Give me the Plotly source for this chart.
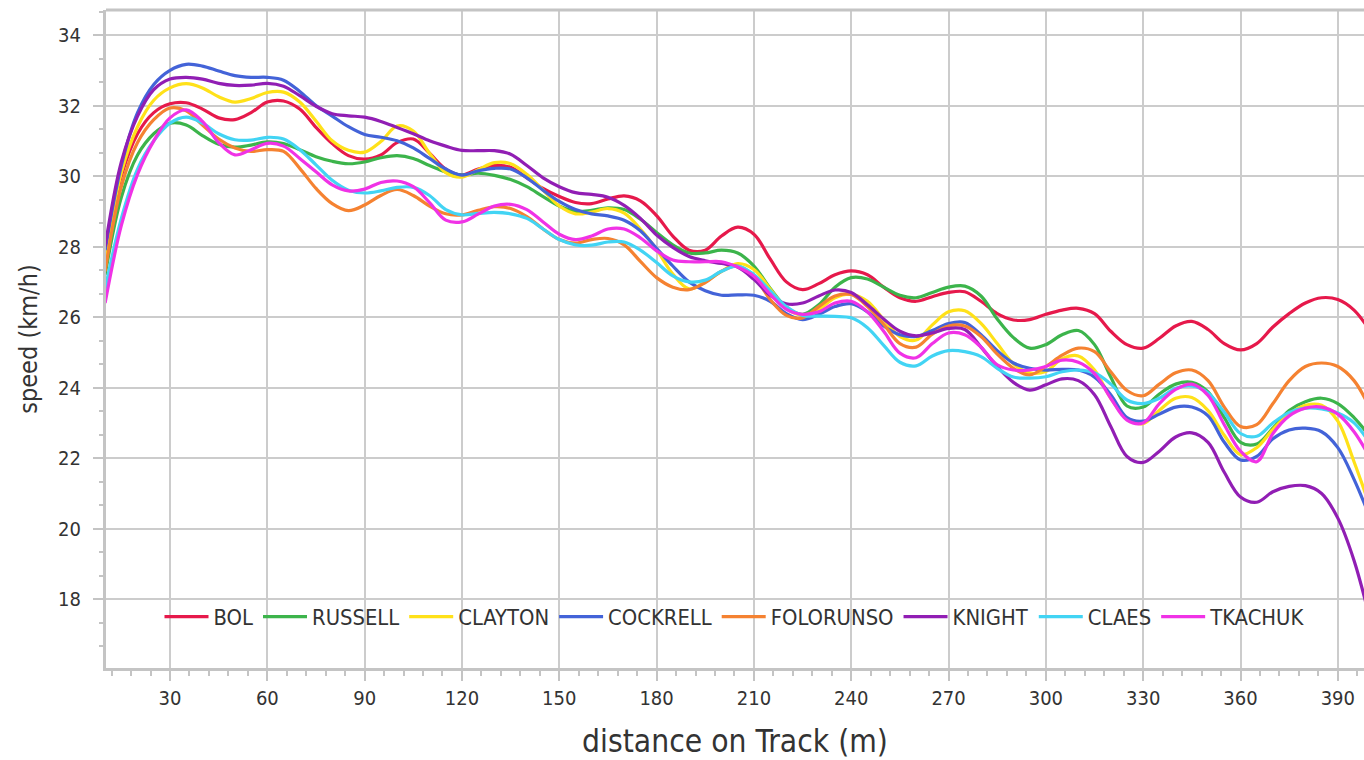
import plotly.graph_objects as go

distance = list(range(10, 401, 5))

names = ["BOL", "RUSSELL", "CLAYTON", "COCKRELL", "FOLORUNSO", "KNIGHT", "CLAES", "TKACHUK"]
colors = ["#e6194B", "#3cb44b", "#ffe119", "#4363d8", "#f58231", "#911eb4", "#42d4f4", "#f032e6"]

bol = [27.8, 30.0, 31.2, 31.8, 32.05, 32.08, 31.9, 31.65, 31.6, 31.8, 32.1, 32.13, 31.9, 31.38, 30.92, 30.58,
       30.48, 30.6, 30.95, 31.05, 30.65, 30.2, 30.03, 30.2, 30.3, 30.25, 29.95, 29.65, 29.42, 29.25, 29.22,
       29.35, 29.44, 29.3, 28.88, 28.3, 27.9, 27.9, 28.3, 28.55, 28.35, 27.65, 27.0, 26.78, 26.95, 27.2, 27.31,
       27.2, 26.85, 26.55, 26.45, 26.58, 26.7, 26.72, 26.45, 26.1, 25.92, 25.93, 26.08, 26.2, 26.25, 26.1, 25.6,
       25.22, 25.12, 25.4, 25.75, 25.88, 25.65, 25.25, 25.07, 25.25, 25.72, 26.1, 26.4, 26.55, 26.5, 26.2, 25.6]
russell = [27.2, 29.4, 30.6, 31.2, 31.5, 31.45, 31.15, 30.9, 30.82, 30.88, 30.97, 30.92, 30.75, 30.55, 30.42,
           30.35, 30.4, 30.52, 30.58, 30.5, 30.3, 30.12, 30.03, 30.08, 30.02, 29.9, 29.7, 29.42, 29.15, 29.0,
           29.03, 29.1, 29.05, 28.78, 28.4, 28.05, 27.82, 27.82, 27.9, 27.82, 27.45, 26.82, 26.28, 26.08, 26.35,
           26.85, 27.12, 27.08, 26.85, 26.62, 26.55, 26.7, 26.85, 26.88, 26.6, 25.95, 25.42, 25.12, 25.22, 25.5,
           25.62, 25.22, 24.3, 23.48, 23.45, 23.82, 24.1, 24.15, 23.88, 23.15, 22.45, 22.4, 22.85, 23.35, 23.6,
           23.7, 23.55, 23.15, 22.6]
clayton = [27.6, 30.1, 31.4, 32.15, 32.5, 32.62, 32.5, 32.25, 32.1, 32.2, 32.37, 32.38, 32.1, 31.56, 31.0,
           30.73, 30.68, 30.98, 31.42, 31.28, 30.65, 30.1, 29.97, 30.18, 30.38, 30.35, 30.05, 29.6, 29.15,
           28.93, 28.98, 29.08, 28.95, 28.5, 27.92, 27.22, 26.8, 27.0, 27.3, 27.52, 27.35, 26.8, 26.25, 26.05,
           26.22, 26.55, 26.65, 26.45, 25.93, 25.45, 25.35, 25.78, 26.15, 26.18, 25.82, 25.25, 24.68, 24.42,
           24.46, 24.82, 24.9, 24.5, 23.7, 23.12, 22.98, 23.36, 23.7, 23.72, 23.35, 22.65, 22.1, 22.3, 22.82,
           23.25, 23.5, 23.5, 23.05, 21.9, 20.6]
cockrell = [27.9, 30.3, 31.8, 32.6, 33.0, 33.17, 33.12, 32.98, 32.85, 32.8, 32.8, 32.72, 32.4, 32.0, 31.7,
            31.4, 31.18, 31.1, 31.0, 30.8, 30.5, 30.2, 30.03, 30.15, 30.22, 30.2, 29.95, 29.6, 29.28, 29.05,
            28.93, 28.87, 28.75, 28.45, 27.95, 27.45, 27.0, 26.75, 26.62, 26.63, 26.62, 26.45, 26.1, 25.93,
            26.08, 26.3, 26.38, 26.15, 25.75, 25.5, 25.45, 25.62, 25.82, 25.85, 25.5, 25.05, 24.7, 24.55, 24.5,
            24.52, 24.5, 24.3, 23.8, 23.15, 23.05, 23.25, 23.45, 23.45, 23.2, 22.45, 21.95, 22.05, 22.55, 22.8,
            22.85, 22.75, 22.3, 21.4, 20.3]
folorunso = [27.3, 29.7, 30.95, 31.6, 31.93, 31.85, 31.45, 31.05, 30.8, 30.7, 30.75, 30.7, 30.22, 29.65,
             29.22, 29.02, 29.18, 29.45, 29.62, 29.45, 29.15, 28.93, 28.9, 29.03, 29.13, 29.08, 28.85, 28.5,
             28.2, 28.1, 28.2, 28.23, 28.05, 27.58, 27.12, 26.85, 26.78, 26.98, 27.3, 27.45, 27.16, 26.5, 26.05,
             25.98, 26.3, 26.6, 26.64, 26.3, 25.8, 25.25, 25.15, 25.52, 25.75, 25.75, 25.45, 24.95, 24.55,
             24.36, 24.6, 24.92, 25.12, 25.02, 24.45, 23.92, 23.77, 24.1, 24.42, 24.5, 24.2, 23.45, 22.9,
             22.95, 23.55, 24.2, 24.6, 24.7, 24.6, 24.2, 23.4]
knight = [28.0, 30.4, 31.7, 32.45, 32.75, 32.8, 32.75, 32.63, 32.57, 32.58, 32.63, 32.55, 32.28, 31.98, 31.77,
          31.71, 31.67, 31.55, 31.38, 31.2, 31.0, 30.85, 30.73, 30.72, 30.72, 30.62, 30.3, 29.95, 29.7, 29.53,
          29.48, 29.4, 29.17, 28.8, 28.33, 27.98, 27.72, 27.6, 27.52, 27.42, 27.07, 26.62, 26.38, 26.4, 26.6,
          26.77, 26.7, 26.35, 25.95, 25.6, 25.47, 25.55, 25.68, 25.65, 25.15, 24.6, 24.15, 23.93, 24.08, 24.25,
          24.2, 23.8, 22.9, 22.05, 21.88, 22.2, 22.6, 22.72, 22.45, 21.6, 20.9, 20.75, 21.05, 21.2, 21.22, 21.0,
          20.3, 19.1, 17.4]
claes = [26.8, 28.8, 30.2, 31.0, 31.5, 31.67, 31.5, 31.2, 31.03, 31.02, 31.1, 31.05, 30.75, 30.32, 29.88, 29.6,
         29.52, 29.58, 29.68, 29.68, 29.45, 29.05, 28.9, 28.94, 28.97, 28.93, 28.8, 28.5, 28.2, 28.05, 28.04,
         28.13, 28.13, 27.9, 27.55, 27.17, 27.0, 27.05, 27.3, 27.45, 27.21, 26.75, 26.3, 26.05, 26.03, 26.02,
         25.98, 25.7, 25.2, 24.72, 24.62, 24.9, 25.05, 25.02, 24.88, 24.55, 24.3, 24.27, 24.31, 24.45, 24.5,
         24.42, 24.1, 23.65, 23.55, 23.7, 23.98, 24.05, 23.85, 23.3, 22.7, 22.62, 23.0, 23.3, 23.42, 23.4,
         23.28, 23.0, 22.4]
tkachuk = [26.4, 28.6, 30.05, 31.0, 31.65, 31.88, 31.55, 30.95, 30.6, 30.75, 30.93, 30.85, 30.5, 30.12, 29.75,
           29.58, 29.63, 29.82, 29.86, 29.7, 29.25, 28.75, 28.7, 28.92, 29.15, 29.2, 29.05, 28.7, 28.35, 28.2,
           28.3, 28.5, 28.5, 28.25, 27.88, 27.62, 27.57, 27.57, 27.57, 27.42, 27.16, 26.65, 26.22, 26.08, 26.15,
           26.4, 26.45, 26.15, 25.6, 24.98, 24.85, 25.25, 25.55, 25.5, 25.15, 24.65, 24.5, 24.5, 24.6, 24.78,
           24.72, 24.4, 23.7, 23.08, 23.0, 23.55, 23.95, 24.1, 23.78, 22.95, 22.2, 21.9, 22.7, 23.2, 23.42,
           23.45, 23.25, 22.75, 22.0]

x_ticks = list(range(30, 391, 30))
y_ticks = list(range(18, 35, 2))

series = [bol, russell, clayton, cockrell, folorunso, knight, claes, tkachuk]

FONT = "DejaVu Sans Condensed, DejaVu Sans, sans-serif"
GRID = "#cccccc"
AXIS = "#c4c4c4"
TEXT = "#333333"

fig = go.Figure()
for name, color, vals in zip(names, colors, series):
    fig.add_trace(go.Scatter(
        x=distance, y=vals, name=name, mode="lines",
        line=dict(color=color, width=3.2, shape="spline", smoothing=1.0),
    ))

fig.update_layout(
    width=1364, height=760,
    margin=dict(l=106, r=0, t=10, b=92),
    paper_bgcolor="white", plot_bgcolor="white",
    font=dict(family=FONT, color=TEXT, size=20),
    showlegend=True,
    legend=dict(
        orientation="h", x=0.5, xanchor="center", y=0.0775, yanchor="middle",
        bgcolor="rgba(0,0,0,0)", font=dict(size=21.8, color=TEXT),
        itemwidth=44, itemclick=False,
    ),
    xaxis=dict(
        range=[10.27, 398.07], tickvals=x_ticks, showgrid=True, gridcolor=GRID, gridwidth=2,
        showline=True, linecolor=AXIS, linewidth=3, zeroline=False,
        ticks="outside", ticklen=10, tickwidth=2, tickcolor=AXIS,
        tickfont=dict(size=20, color=TEXT),
        minor=dict(dtick=6, tick0=0, ticks="outside", ticklen=5, tickwidth=2, tickcolor=AXIS, showgrid=False),
        title=dict(text="distance on Track (m)", font=dict(size=31.5, color=TEXT), standoff=21),
    ),
    yaxis=dict(
        range=[16.05, 34.71], tickvals=y_ticks, showgrid=True, gridcolor=GRID, gridwidth=2,
        showline=True, linecolor=AXIS, linewidth=3, zeroline=False,
        ticks="outside", ticklen=10, tickwidth=2, tickcolor=AXIS,
        tickfont=dict(size=20, color=TEXT), ticklabelstandoff=8,
        minor=dict(dtick=2/3, tick0=0, ticks="outside", ticklen=4, tickwidth=2, tickcolor=AXIS, showgrid=False),
        title=dict(text="speed (km/h)", font=dict(size=25, color=TEXT), standoff=14),
    ),
    shapes=[
        dict(type="rect", xref="paper", yref="paper", x0=0.0294, x1=0.973, y0=0.0152, y1=0.1383,
             fillcolor="rgba(255,255,255,0.85)", line=dict(width=0), layer="between"),
        dict(type="line", xref="paper", yref="paper", x0=0, x1=1, y0=1, y1=1,
             line=dict(color=AXIS, width=3), layer="above"),
    ],
)

fig.write_html(
    "out.html",
    config={"displayModeBar": False},
    post_script="document.body.style.margin='0';document.body.style.overflow='hidden';",
)
